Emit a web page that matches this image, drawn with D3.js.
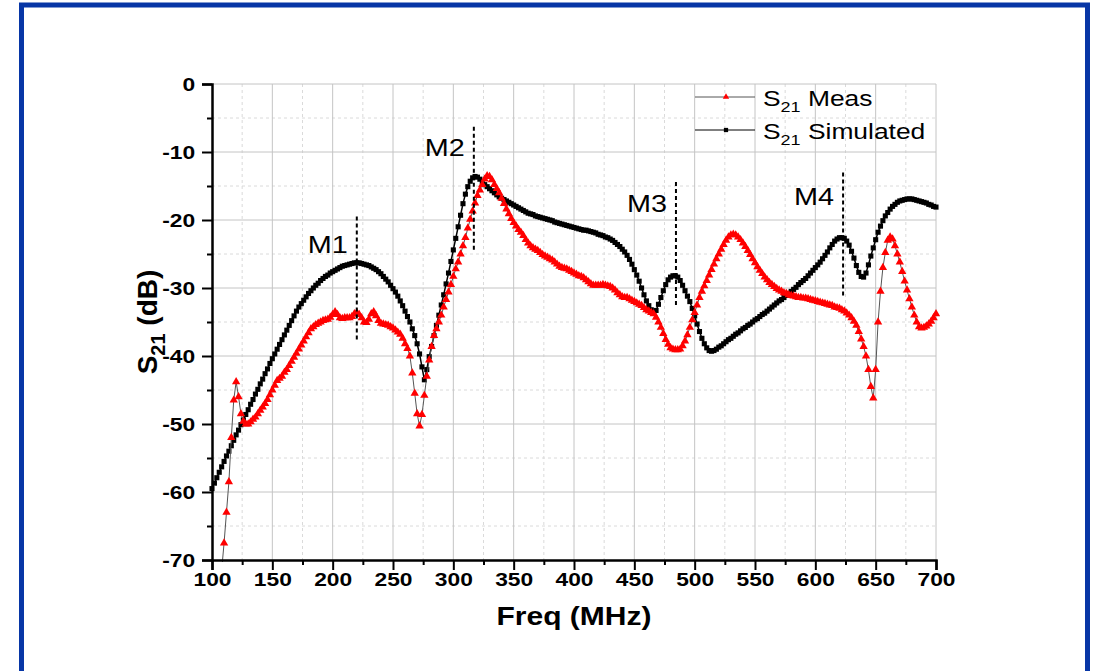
<!DOCTYPE html>
<html>
<head>
<meta charset="utf-8">
<script src="https://cdn.jsdelivr.net/npm/d3@7"></script>
<style>
body { margin: 0; background: #fff; }
svg { display: block; }
text { font-family: "Liberation Sans", Arial, sans-serif; }
</style>
</head>
<body>
<script>
// sweep: 100 .. 700 MHz, one reading every 2 MHz
var freqStart = 100, freqStop = 700, freqStep = 2;

var measDb = [
	-80,-78,-76,-74,-71.5,-67.5,-63,-58.5,-52,-46.5,
	-43.8,-46,-48.5,-49.6,-50,-50,-49.7,-49.3,-49,-48.5,
	-48,-47.5,-47,-46.4,-45.7,-45,-44.3,-43.6,-43.3,-43,
	-42.4,-42,-41.4,-40.8,-40.2,-39.6,-39,-38.4,-37.8,-37.2,
	-36.6,-36,-35.7,-35.4,-35.2,-35,-34.8,-34.7,-34.6,-34.3,
	-33.9,-33.5,-33.9,-34.4,-34.5,-34.4,-34.4,-34.4,-34.2,-33.8,
	-33.6,-33.9,-34.4,-35,-35.1,-34.6,-33.8,-33.5,-34.1,-34.8,
	-35.2,-35.3,-35.4,-35.5,-35.7,-35.9,-36.2,-36.5,-36.8,-37.4,
	-38.2,-38.9,-40,-42.5,-45.5,-48.5,-50.3,-48.6,-45.8,-43,
	-40.6,-38.6,-37,-36,-35,-34,-32.8,-31.7,-30.6,-29.5,
	-28.3,-27.2,-26.2,-25,-23.8,-22.6,-21.2,-19.9,-18.7,-17.5,
	-16.4,-15.6,-14.8,-14,-13.5,-13.6,-14.1,-14.8,-15.4,-16,
	-16.8,-17.6,-18.4,-19.1,-19.8,-20.4,-20.9,-21.4,-21.8,-22.3,
	-22.9,-23.4,-23.8,-24.1,-24.3,-24.5,-24.8,-25.1,-25.3,-25.5,
	-25.7,-25.9,-26.2,-26.5,-26.8,-27,-27.1,-27.2,-27.4,-27.6,
	-27.8,-28,-28.2,-28.3,-28.5,-28.8,-29.1,-29.4,-29.6,-29.6,
	-29.6,-29.6,-29.5,-29.6,-29.7,-29.8,-30,-30.3,-30.7,-31,
	-31.3,-31.4,-31.4,-31.6,-31.8,-32,-32.2,-32.4,-32.6,-32.9,
	-33.2,-33.4,-33.6,-33.8,-34.3,-35,-35.8,-36.7,-37.6,-38.3,
	-38.8,-39,-39.1,-39.1,-39,-38.5,-37.8,-36.9,-35.8,-34.7,
	-33.6,-32.5,-31.4,-30.5,-29.7,-28.9,-28.1,-27.3,-26.5,-25.7,
	-25,-24.3,-23.6,-23,-22.5,-22.2,-22.1,-22.2,-22.5,-22.9,
	-23.4,-23.9,-24.5,-25.1,-25.7,-26.3,-26.9,-27.4,-27.9,-28.4,
	-28.8,-29.2,-29.5,-29.8,-30.1,-30.3,-30.5,-30.7,-30.8,-31,
	-31.1,-31.2,-31.3,-31.4,-31.4,-31.5,-31.5,-31.6,-31.7,-31.8,
	-31.9,-32,-32.1,-32.2,-32.3,-32.4,-32.5,-32.6,-32.8,-32.9,
	-33,-33.2,-33.4,-33.7,-34,-34.4,-34.9,-35.5,-36.4,-37.5,
	-38.6,-40,-42,-44.5,-46.2,-42,-35,-30.5,-27,-24.8,
	-23,-22.5,-22.8,-23.8,-25,-26.2,-27.6,-29,-30.3,-31.6,
	-32.8,-34,-35,-35.7,-35.9,-35.8,-35.6,-35.3,-34.9,-34.4,
	-33.8
];

var simDb = [
	-59.5,-58.7,-57.9,-57.1,-56.3,-55.5,-54.7,-54,-53.2,-52.4,
	-51.6,-50.9,-50.1,-49.4,-48.6,-47.9,-47.1,-46.4,-45.6,-44.9,
	-44.1,-43.4,-42.6,-41.9,-41.1,-40.4,-39.7,-39,-38.3,-37.6,
	-36.9,-36.2,-35.5,-34.8,-34.1,-33.4,-32.8,-32.3,-31.8,-31.3,
	-30.8,-30.4,-30,-29.6,-29.3,-28.9,-28.6,-28.3,-28.1,-27.8,
	-27.6,-27.4,-27.2,-27,-26.8,-26.7,-26.6,-26.5,-26.4,-26.3,
	-26.3,-26.3,-26.4,-26.5,-26.6,-26.7,-26.9,-27.1,-27.3,-27.6,
	-27.9,-28.3,-28.7,-29.1,-29.6,-30.1,-30.6,-31.2,-31.9,-32.6,
	-33.4,-34.2,-35,-36,-37,-38.2,-39.7,-41.6,-43.5,-42,
	-40.1,-38.6,-37,-35.5,-34,-32.5,-31,-29.4,-27.8,-26.1,
	-24.4,-22.7,-21,-19.3,-17.6,-16.2,-15.1,-14.3,-13.8,-13.6,
	-13.7,-14,-14.4,-14.8,-15.1,-15.4,-15.7,-16,-16.3,-16.6,
	-16.8,-17,-17.2,-17.4,-17.6,-17.8,-18,-18.2,-18.4,-18.6,
	-18.8,-19,-19.1,-19.2,-19.4,-19.5,-19.6,-19.7,-19.8,-19.9,
	-20,-20.1,-20.3,-20.4,-20.5,-20.6,-20.7,-20.8,-20.9,-21,
	-21.1,-21.2,-21.3,-21.4,-21.5,-21.5,-21.6,-21.7,-21.8,-21.9,
	-22.1,-22.2,-22.3,-22.5,-22.6,-22.8,-23,-23.3,-23.6,-23.9,
	-24.3,-24.7,-25.2,-25.8,-26.5,-27.3,-28.1,-29,-30,-31,
	-31.9,-32.6,-33.2,-33.5,-33.3,-32.4,-31.4,-30.4,-29.5,-28.8,
	-28.4,-28.2,-28.2,-28.4,-28.9,-29.6,-30.4,-31.2,-32,-33,
	-34.1,-35.3,-36.4,-37.4,-38.2,-38.8,-39.2,-39.3,-39.2,-39,
	-38.7,-38.5,-38.2,-37.9,-37.6,-37.4,-37.1,-36.8,-36.6,-36.3,
	-36,-35.8,-35.5,-35.3,-35,-34.7,-34.5,-34.2,-33.9,-33.7,
	-33.4,-33.1,-32.8,-32.5,-32.2,-31.9,-31.7,-31.4,-31.1,-30.8,
	-30.5,-30.2,-29.9,-29.5,-29.2,-28.9,-28.6,-28.2,-27.8,-27.4,
	-27,-26.6,-26.2,-25.7,-25.2,-24.7,-24.1,-23.6,-23.1,-22.8,
	-22.6,-22.6,-22.7,-23.1,-23.7,-24.6,-25.6,-26.7,-27.7,-28.3,
	-28.4,-27.8,-26.6,-25.3,-24.1,-22.9,-21.8,-20.9,-20.1,-19.4,
	-18.9,-18.4,-18,-17.7,-17.4,-17.2,-17.1,-17,-16.9,-16.9,
	-16.9,-17,-17.1,-17.2,-17.3,-17.4,-17.5,-17.7,-17.8,-18,
	-18.1
];

var xTicks = [100, 150, 200, 250, 300, 350, 400, 450, 500, 550, 600, 650, 700];
var yTicks = [0, -10, -20, -30, -40, -50, -60, -70];

// marker annotations (frequency, dashed span top/bottom, label baseline)
var markerNames = ["M1", "M2", "M3", "M4"];
var markerFreqs = [220, 317, 484.5, 623];
var markerTopDb = [-19.5, -6.3, -14.4, -13];
var markerBottomDb = [-37.6, -24.7, -32.5, -31.3];
var markerLabelDb = [-24.9, -10.6, -18.8, -17.8];

var width = 1094, height = 671;
var plot = {left: 212, right: 936, top: 84, bottom: 560};
var sx = 1.2; // the original text is a bit wide

var freqs = d3.range(freqStart, freqStop + 1, freqStep);
var meas = freqs.map((f, i) => ({f: f, v: measDb[i]}));
var sim = freqs.map((f, i) => ({f: f, v: simDb[i]}));

var svg = d3.select("body").append("svg")
	.attr("width", width)
	.attr("height", height);

svg.append("rect").attr("width", width).attr("height", height).attr("fill", "#fff");

// blue frame
svg.append("rect")
	.attr("x", 21.5).attr("y", 5)
	.attr("width", 1066).attr("height", 720)
	.attr("fill", "none")
	.attr("stroke", "#0736a6")
	.attr("stroke-width", 5);

var x = d3.scaleLinear().domain([100, 700]).range([plot.left, plot.right]);
var y = d3.scaleLinear().domain([-70, 0]).range([plot.bottom, plot.top]);

// grid
var minorX = d3.range(125, 700, 50);
var minorY = d3.range(-65, 0, 10);
var grid = svg.append("g");
grid.selectAll(".mx").data(minorX).enter().append("line")
	.attr("x1", d => x(d)).attr("x2", d => x(d))
	.attr("y1", plot.top).attr("y2", plot.bottom)
	.attr("stroke", "#dadada").attr("stroke-dasharray", "3,3");
grid.selectAll(".my").data(minorY).enter().append("line")
	.attr("y1", d => y(d)).attr("y2", d => y(d))
	.attr("x1", plot.left).attr("x2", plot.right)
	.attr("stroke", "#dadada").attr("stroke-dasharray", "3,3");
grid.selectAll(".gx").data(xTicks.slice(1)).enter().append("line")
	.attr("x1", d => x(d)).attr("x2", d => x(d))
	.attr("y1", plot.top).attr("y2", plot.bottom)
	.attr("stroke", "#c4c4c4");
grid.selectAll(".gy").data(yTicks.slice(0, -1)).enter().append("line")
	.attr("y1", d => y(d)).attr("y2", d => y(d))
	.attr("x1", plot.left).attr("x2", plot.right)
	.attr("stroke", "#c4c4c4");

// series
svg.append("clipPath").attr("id", "clip")
	.append("rect")
	.attr("x", plot.left - 4).attr("y", plot.top - 4)
	.attr("width", plot.right - plot.left + 8)
	.attr("height", plot.bottom - plot.top + 6);

var line = d3.line().x(d => x(d.f)).y(d => y(d.v));
var series = svg.append("g").attr("clip-path", "url(#clip)");

var square = d3.symbol().type(d3.symbolSquare).size(26);
var tri = d3.symbol().type(d3.symbolTriangle).size(30);

series.append("path").datum(sim)
	.attr("d", line)
	.attr("fill", "none")
	.attr("stroke", "#000")
	.attr("stroke-width", 1.5);
series.selectAll(".sq").data(sim).enter().append("path")
	.attr("d", square)
	.attr("transform", d => `translate(${x(d.f)},${y(d.v)})`)
	.attr("fill", "#000");

series.append("path").datum(meas)
	.attr("d", line)
	.attr("fill", "none")
	.attr("stroke", "#555")
	.attr("stroke-width", 1);
series.selectAll(".tr").data(meas).enter().append("path")
	.attr("d", tri)
	.attr("transform", d => `translate(${x(d.f)},${y(d.v)})`)
	.attr("fill", "#ff0000");

// axes
var fmt = d => String(d);
var xAxis = svg.append("g").attr("transform", `translate(0,${plot.bottom})`)
	.call(d3.axisBottom(x).tickValues(xTicks).tickSize(10).tickPadding(3).tickFormat(fmt));
svg.append("g").attr("transform", `translate(0,${plot.bottom})`)
	.call(d3.axisBottom(x).tickValues(minorX).tickSize(5).tickFormat(""))
	.select(".domain").remove();
var yAxis = svg.append("g").attr("transform", `translate(${plot.left},0)`)
	.call(d3.axisLeft(y).tickValues(yTicks).tickSize(10).tickPadding(4).tickFormat(fmt));
svg.append("g").attr("transform", `translate(${plot.left},0)`)
	.call(d3.axisLeft(y).tickValues(minorY).tickSize(5).tickFormat(""))
	.select(".domain").remove();

svg.selectAll(".domain").attr("stroke", "#000").attr("stroke-width", 2.5);
svg.selectAll(".tick line").attr("stroke", "#000").attr("stroke-width", 2);
svg.selectAll(".tick text")
	.attr("fill", "#000")
	.style("font-family", '"Liberation Sans", Arial, sans-serif')
	.style("font-size", "19px")
	.style("font-weight", "bold");
xAxis.selectAll(".tick text").attr("transform", `scale(${sx},1)`);
yAxis.selectAll(".tick text").attr("transform", `scale(${sx},1)`);

// markers
markerNames.forEach((name, i) => {
	svg.append("line")
		.attr("x1", x(markerFreqs[i])).attr("x2", x(markerFreqs[i]))
		.attr("y1", y(markerTopDb[i])).attr("y2", y(markerBottomDb[i]))
		.attr("stroke", "#000")
		.attr("stroke-width", 2)
		.attr("stroke-dasharray", "4,3");
	svg.append("text")
		.attr("transform", `translate(${x(markerFreqs[i]) - 9},${y(markerLabelDb[i])}) scale(${sx},1)`)
		.attr("text-anchor", "end")
		.style("font-size", "24px")
		.text(name);
});

// axis titles
svg.append("text")
	.attr("transform", `translate(${(plot.left + plot.right) / 2},625) scale(${sx},1)`)
	.attr("text-anchor", "middle")
	.style("font-size", "25px")
	.style("font-weight", "bold")
	.text("Freq (MHz)");

var yt = svg.append("text")
	.attr("transform", `translate(157,${(plot.top + plot.bottom) / 2}) rotate(-90)`)
	.attr("text-anchor", "middle")
	.style("font-size", "28px")
	.style("font-weight", "bold");
yt.append("tspan").text("S");
yt.append("tspan").attr("dy", 8).style("font-size", "20px").text("21");
yt.append("tspan").attr("dy", -8).text(" (dB)");

// legend
var legendItems = [
	{name: "Meas", type: d3.symbolTriangle, color: "#ff0000", lineColor: "#555", y: 97},
	{name: "Simulated", type: d3.symbolSquare, color: "#000", lineColor: "#000", y: 130}
];
var legend = svg.append("g");
legendItems.forEach(d => {
	legend.append("line")
		.attr("x1", 695).attr("x2", 755)
		.attr("y1", d.y).attr("y2", d.y)
		.attr("stroke", d.lineColor).attr("stroke-width", 1);
	legend.append("path")
		.attr("d", d3.symbol().type(d.type).size(18))
		.attr("transform", `translate(726,${d.y})`)
		.attr("fill", d.color);
	var t = legend.append("text")
		.attr("transform", `translate(763,${d.y + 8.5}) scale(${sx},1)`)
		.style("font-size", "22px");
	t.append("tspan").text("S");
	t.append("tspan").attr("dy", 6).style("font-size", "15px").text("21");
	t.append("tspan").attr("dy", -6).text(" " + d.name);
});
</script>
</body>
</html>
